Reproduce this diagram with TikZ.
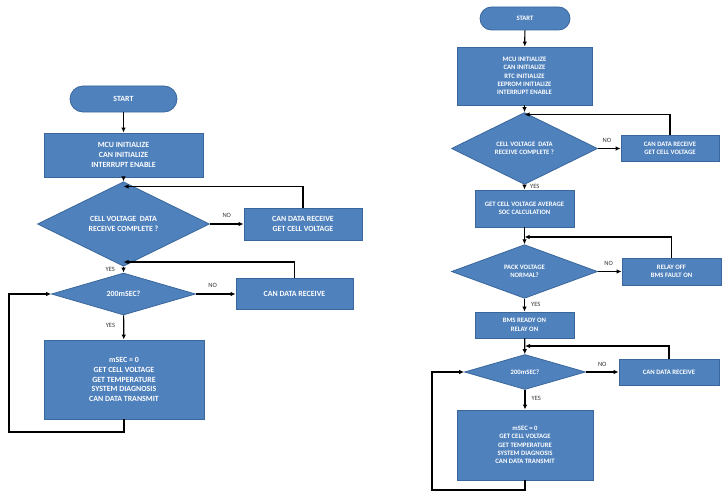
\documentclass[tikz,border=0pt]{standalone}
\usepackage{fontspec}
\setmainfont{Carlito}
\usetikzlibrary{shapes.geometric,arrows.meta}
\definecolor{blu}{HTML}{4F81BD}
\definecolor{bord}{HTML}{3A679B}
\tikzset{
  base/.style={draw=bord, fill=blu, line width=0.8pt, text=white, align=center, inner sep=0pt},
  lfont/.style={font=\bfseries\fontsize{7.9}{9.6}\selectfont},
  rfont/.style={font=\bfseries\fontsize{6.7}{8.4}\selectfont},
  proc/.style={base, rectangle},
  dec/.style={base, diamond},
  term/.style={base, rectangle, rounded corners=#1},
  arr/.style={-{Latex[length=5pt,width=4.5pt]}, line width=1.2pt, black},
  lbl/.style={font=\fontsize{6.5}{7.5}\selectfont, text=black!80, inner sep=0pt},
}
\begin{document}
\begin{tikzpicture}[x=1pt,y=-1pt]
\useasboundingbox (0,0) rectangle (727,500);
% ---------------- left chart ----------------
\node[term=13pt, lfont, minimum width=107pt, minimum height=26pt] (ls) at (123.5,99) {START};
\node[proc, lfont, minimum width=159pt, minimum height=44pt] (lb1) at (123.5,155) {MCU INITIALIZE\\CAN INITIALIZE\\INTERRUPT ENABLE};
\node[dec, lfont, minimum width=172pt, minimum height=55pt] (ld1) at (123.5,224) {CELL VOLTAGE~~DATA\\RECEIVE COMPLETE ?};
\node[proc, lfont, minimum width=118pt, minimum height=32pt] (ln1) at (303,224) {CAN DATA RECEIVE\\GET CELL VOLTAGE};
\node[dec, lfont, minimum width=144pt, minimum height=42pt] (ld2) at (123.5,294) {200mSEC?};
\node[proc, lfont, minimum width=117pt, minimum height=31pt] (ln2) at (294.5,294) {CAN DATA RECEIVE};
\node[proc, lfont, minimum width=160pt, minimum height=79pt] (lb3) at (124,379.5) {mSEC = 0\\GET CELL VOLTAGE\\GET TEMPERATURE\\SYSTEM DIAGNOSIS\\CAN DATA TRANSMIT};
\coordinate (lj1) at (123.5,186.5);
\coordinate (lj2) at (123.5,262);
\coordinate (lc1) at (9,432);
\draw[arr] (ls) -- (lb1);
\draw[arr] (lb1) -- (ld1);
\draw[arr] (ld1) -- (ln1) node[lbl, pos=0.5, above=6pt] (lno1) {NO};
\draw[arr] (ln1.north) |- (lj1);
\draw[arr] (ld1) -- (ld2) node[lbl, pos=0.45, left=8pt] (lyes1) {YES};
\draw[arr] (ld2) -- (ln2) node[lbl, pos=0.42, above=6pt] (lno2) {NO};
\draw[arr] (ln2.north) |- (lj2);
\draw[arr] (ld2) -- (lb3) node[lbl, pos=0.4, left=8pt] (lyes2) {YES};
\draw[arr] (lb3.south) |- (lc1) |- (ld2.west);
% ---------------- right chart ----------------
\node[term=11.5pt, rfont, minimum width=90pt, minimum height=23pt] (rs) at (525,18.5) {START};
\node[proc, rfont, minimum width=135pt, minimum height=58pt] (rb1) at (524.5,76) {MCU INITIALIZE\\CAN INITIALIZE\\RTC INITIALIZE\\EEPROM INITIALIZE\\INTERRUPT ENABLE};
\node[dec, rfont, minimum width=146pt, minimum height=50pt] (rd1) at (524.5,148.5) {CELL VOLTAGE~~DATA\\RECEIVE COMPLETE ?};
\node[proc, rfont, minimum width=98pt, minimum height=26pt] (rn1) at (670,148.5) {CAN DATA RECEIVE\\GET CELL VOLTAGE};
\node[proc, rfont, minimum width=99pt, minimum height=37pt] (rb2) at (524.5,208.5) {GET CELL VOLTAGE AVERAGE\\SOC CALCULATION};
\node[dec, rfont, minimum width=146pt, minimum height=47pt] (rd2) at (524.5,271.5) {PACK VOLTAGE\\NORMAL?};
\node[proc, rfont, minimum width=99pt, minimum height=27pt] (rn2) at (671.5,271.5) {RELAY OFF\\BMS FAULT ON};
\node[proc, rfont, minimum width=99pt, minimum height=26pt] (rb3) at (524.5,325) {BMS READY ON\\RELAY ON};
\node[dec, rfont, minimum width=121pt, minimum height=35pt] (rd3) at (525,372) {200mSEC?};
\node[proc, rfont, minimum width=100pt, minimum height=26pt] (rn3) at (669,372) {CAN DATA RECEIVE};
\node[proc, rfont, minimum width=136pt, minimum height=70pt] (rb4) at (525,445) {mSEC = 0\\GET CELL VOLTAGE\\GET TEMPERATURE\\SYSTEM DIAGNOSIS\\CAN DATA TRANSMIT};
\coordinate (rj1) at (524.5,114.5);
\coordinate (rj2) at (524.5,237);
\coordinate (rj3) at (525,346);
\coordinate (rc1) at (432,490);
\draw[arr] (rs) -- (rb1);
\draw[arr] (rb1) -- (rd1);
\draw[arr] (rd1) -- (rn1) node[lbl, pos=0.4, above=5pt] (rno1) {NO};
\draw[arr] (rn1.north) |- (rj1);
\draw[arr] (rd1) -- (rb2) node[lbl, pos=0.4, right=5pt] (ryes1) {YES};
\draw[arr] (rb2) -- (rd2);
\draw[arr] (rd2) -- (rn2) node[lbl, pos=0.45, above=5pt] (rno2) {NO};
\draw[arr] (rn2.north) |- (rj2);
\draw[arr] (rd2) -- (rb3) node[lbl, pos=0.45, right=6pt] (ryes2) {YES};
\draw[arr] (rb3) -- (rd3);
\draw[arr] (rd3) -- (rn3) node[lbl, pos=0.5, above=5pt] (rno3) {NO};
\draw[arr] (rn3.north) |- (rj3);
\draw[arr] (rd3) -- (rb4) node[lbl, pos=0.45, right=6pt] (ryes3) {YES};
\draw[arr] (rb4.south) |- (rc1) |- (rd3.west);
\end{tikzpicture}
\end{document}
